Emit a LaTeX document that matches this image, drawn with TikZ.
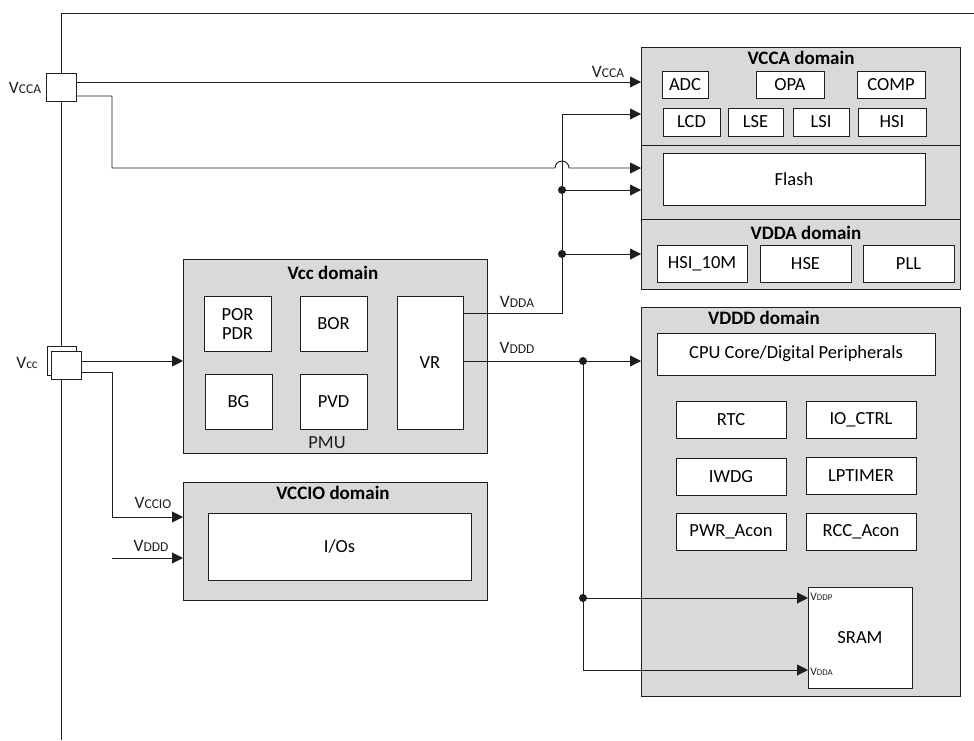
\documentclass[tikz,border=0pt]{standalone}
\usepackage{fontspec}
\setmainfont{Carlito}
\usetikzlibrary{arrows.meta}
\definecolor{domfill}{HTML}{D9D9D9}
\definecolor{ln}{HTML}{1E1E1E}
\newcommand\blkfont{\fontsize{18.5}{21}\selectfont}
\newcommand\ttlfont{\fontsize{19}{21}\selectfont\bfseries}
\newcommand\vlab[1]{{\fontsize{17.5}{19}\selectfont V\fontsize{13.5}{15}\selectfont #1}}
\newcommand\vpin[1]{{\fontsize{11.5}{13}\selectfont V\fontsize{8.8}{10}\selectfont #1}}
\begin{document}
\begin{tikzpicture}[x=1pt,y=-1pt,line width=0.9pt,
  dom/.style={draw=ln,fill=domfill,inner sep=0,outer sep=0},
  blk/.style={draw=ln,fill=white,inner sep=0,outer sep=0,font=\blkfont,align=center},
  ttl/.style={font=\ttlfont,inner sep=0},
  lab/.style={inner sep=0,text=ln},
  wire/.style={draw=ln},
  arr/.style={draw=ln,-{Triangle[length=11pt,width=11pt]}},
  jdot/.style={circle,fill=ln,inner sep=0,minimum size=8pt}]
\useasboundingbox (0,0) rectangle (974,740);

% ---- domains ----
\node[dom,minimum width=319pt,minimum height=98pt] (vcca) at (800.5,96) {};
\node[dom,minimum width=319pt,minimum height=74pt] (flashsec) at (800.5,182) {};
\node[dom,minimum width=319pt,minimum height=70pt] (vdda) at (800.5,254) {};
\node[dom,minimum width=319pt,minimum height=389pt] (vddd) at (800.5,501.5) {};
\node[dom,minimum width=304pt,minimum height=194pt] (vccd) at (335,356) {};
\node[dom,minimum width=304pt,minimum height=118pt] (vccio) at (335,541) {};

% ---- titles ----
\node[ttl] (tvcca) at (801,58) {VCCA domain};
\node[ttl] (tvdda) at (806,233) {VDDA domain};
\node[ttl] (tvddd) at (764,318) {VDDD domain};
\node[ttl] (tvcc) at (333,273) {Vcc domain};
\node[ttl] (tvccio) at (333,493) {VCCIO domain};
\node[lab,font=\blkfont] (pmu) at (327,443) {PMU};

% ---- VCCA blocks ----
\node[blk,minimum width=46pt,minimum height=27pt] (adc) at (685,84.5) {ADC};
\node[blk,minimum width=68pt,minimum height=27pt] (opa) at (790,84.5) {OPA};
\node[blk,minimum width=68pt,minimum height=27pt] (comp) at (891,84.5) {COMP};
\node[blk,minimum width=57pt,minimum height=28pt] (lcd) at (691.5,122) {LCD};
\node[blk,minimum width=55pt,minimum height=28pt] (lse) at (755.5,122) {LSE};
\node[blk,minimum width=56pt,minimum height=28pt] (lsi) at (821,122) {LSI};
\node[blk,minimum width=68pt,minimum height=28pt] (hsi) at (892,122) {HSI};
\node[blk,minimum width=262pt,minimum height=52pt] (flash) at (794,179) {Flash};
\node[blk,minimum width=90pt,minimum height=37pt] (hsi10) at (702,263.5) {HSI\_10M};
\node[blk,minimum width=91pt,minimum height=37pt] (hse) at (805.5,263.5) {HSE};
\node[blk,minimum width=91pt,minimum height=37pt] (pll) at (908.5,263.5) {PLL};

% ---- VDDD blocks ----
\node[blk,minimum width=278pt,minimum height=42pt] (cpu) at (796,354) {CPU Core/Digital Peripherals};
\node[blk,minimum width=110pt,minimum height=37pt] (rtc) at (731,419.5) {RTC};
\node[blk,minimum width=110pt,minimum height=37pt] (ioctrl) at (861,419.5) {IO\_CTRL};
\node[blk,minimum width=110pt,minimum height=37pt] (iwdg) at (731,476.5) {IWDG};
\node[blk,minimum width=110pt,minimum height=37pt] (lptim) at (861,476) {LPTIMER};
\node[blk,minimum width=110pt,minimum height=37pt] (pwr) at (731,531.5) {PWR\_Acon};
\node[blk,minimum width=110pt,minimum height=37pt] (rcc) at (861,531.5) {RCC\_Acon};
\node[blk,minimum width=104pt,minimum height=101pt] (sram) at (860,637.5) {SRAM};

% ---- Vcc blocks ----
\node[blk,minimum width=67pt,minimum height=55pt] (por) at (237.5,323.5) {POR\\[-2pt]PDR};
\node[blk,minimum width=67pt,minimum height=55pt] (bor) at (333.5,323.5) {BOR};
\node[blk,minimum width=67pt,minimum height=55pt] (bg) at (238.5,401.5) {BG};
\node[blk,minimum width=67pt,minimum height=55pt] (pvd) at (333.5,401.5) {PVD};
\node[blk,minimum width=66pt,minimum height=133pt] (vr) at (430,362.5) {VR};

% ---- VCCIO block ----
\node[blk,minimum width=263pt,minimum height=67pt] (ios) at (339.5,546.5) {I/Os};

% ---- supply rail ----
\coordinate (railBot) at (61,740);
\coordinate (railTop) at (61,13);
\coordinate (railEnd) at (974,13);
\draw[wire] (railBot) -- (railTop) -- (railEnd);

% ---- pins ----
\node[blk,minimum width=30pt,minimum height=28pt] (pinA) at (61,87) {};
\node[blk,minimum width=29pt,minimum height=29pt] (pinCb) at (61.5,360.5) {};
\node[blk,minimum width=30pt,minimum height=28pt] (pinC) at (66,365) {};
\node[lab] (lpinA) at (25,88) {\vlab{CCA}};
\node[lab] (lpinC) at (27,363) {\vlab{cc}};

% ---- VCCA pin connections ----
\path ([yshift=5pt]pinA.east) coordinate (pA1);
\draw[arr] (pA1) -- (pA1 -| vcca.west);
\node[lab] (lvcca) at (608,72) {\vlab{CCA}};
\path ([yshift=-9pt]pinA.east) coordinate (pA2);
\coordinate (kA) at (112,168);
\draw[arr] (pA2) -- (pA2 -| kA) -- (kA) -- (555,168)
  arc[start angle=180,end angle=0,radius=7pt] -- (kA -| flashsec.west);

% ---- VDDA bus ----
\path ([yshift=49.5pt]vr.east) coordinate (vddaOut);
\coordinate (vbB) at (562,313);
\coordinate (vbT) at (562,114);
\draw[arr] (vddaOut) -- (vbB) -- (vbT) -- (vbT -| vcca.west);
\coordinate (j1) at (562,190);
\coordinate (j2) at (562,254);
\draw[arr] (j1) -- (j1 -| flashsec.west);
\draw[arr] (j2) -- (j2 -| vdda.west);
\node[jdot] (dj1) at (j1) {};
\node[jdot] (dj2) at (j2) {};
\node[lab] (lvdda) at (517,302) {\vlab{DDA}};

% ---- VDDD bus ----
\path ([yshift=1.5pt]vr.east) coordinate (vdddOut);
\draw[arr] (vdddOut) -- (vdddOut -| vddd.west);
\node[lab] (lvddd) at (517,348) {\vlab{DDD}};
\coordinate (j3) at (583,361);
\coordinate (j4) at (583,598);
\coordinate (j5) at (583,670);
\draw[wire] (j3) -- (j5);
\draw[arr] (j5) -- (j5 -| sram.west);
\draw[arr] (j4) -- (j4 -| sram.west);
\node[jdot] (dj3) at (j3) {};
\node[jdot] (dj4) at (j4) {};
\node[lab,anchor=west] (lvddp) at (810,597) {\vpin{DDP}};
\node[lab,anchor=west] (lsvdda) at (810,672) {\vpin{DDA}};

% ---- Vcc pin connections ----
\path ([yshift=4pt]pinC.east) coordinate (pC1);
\draw[arr] (pC1) -- (pC1 -| vccd.west);
\path ([yshift=-7pt]pinC.east) coordinate (pC2);
\coordinate (kC) at (112,517);
\draw[arr] (pC2) -- (pC2 -| kC) -- (kC) -- (kC -| vccio.west);
\node[lab] (lvccio) at (153,503) {\vlab{CCIO}};
\coordinate (dIn) at (112,558);
\draw[arr] (dIn) -- (dIn -| vccio.west);
\node[lab] (lvdddin) at (151,546) {\vlab{DDD}};
\end{tikzpicture}
\end{document}
